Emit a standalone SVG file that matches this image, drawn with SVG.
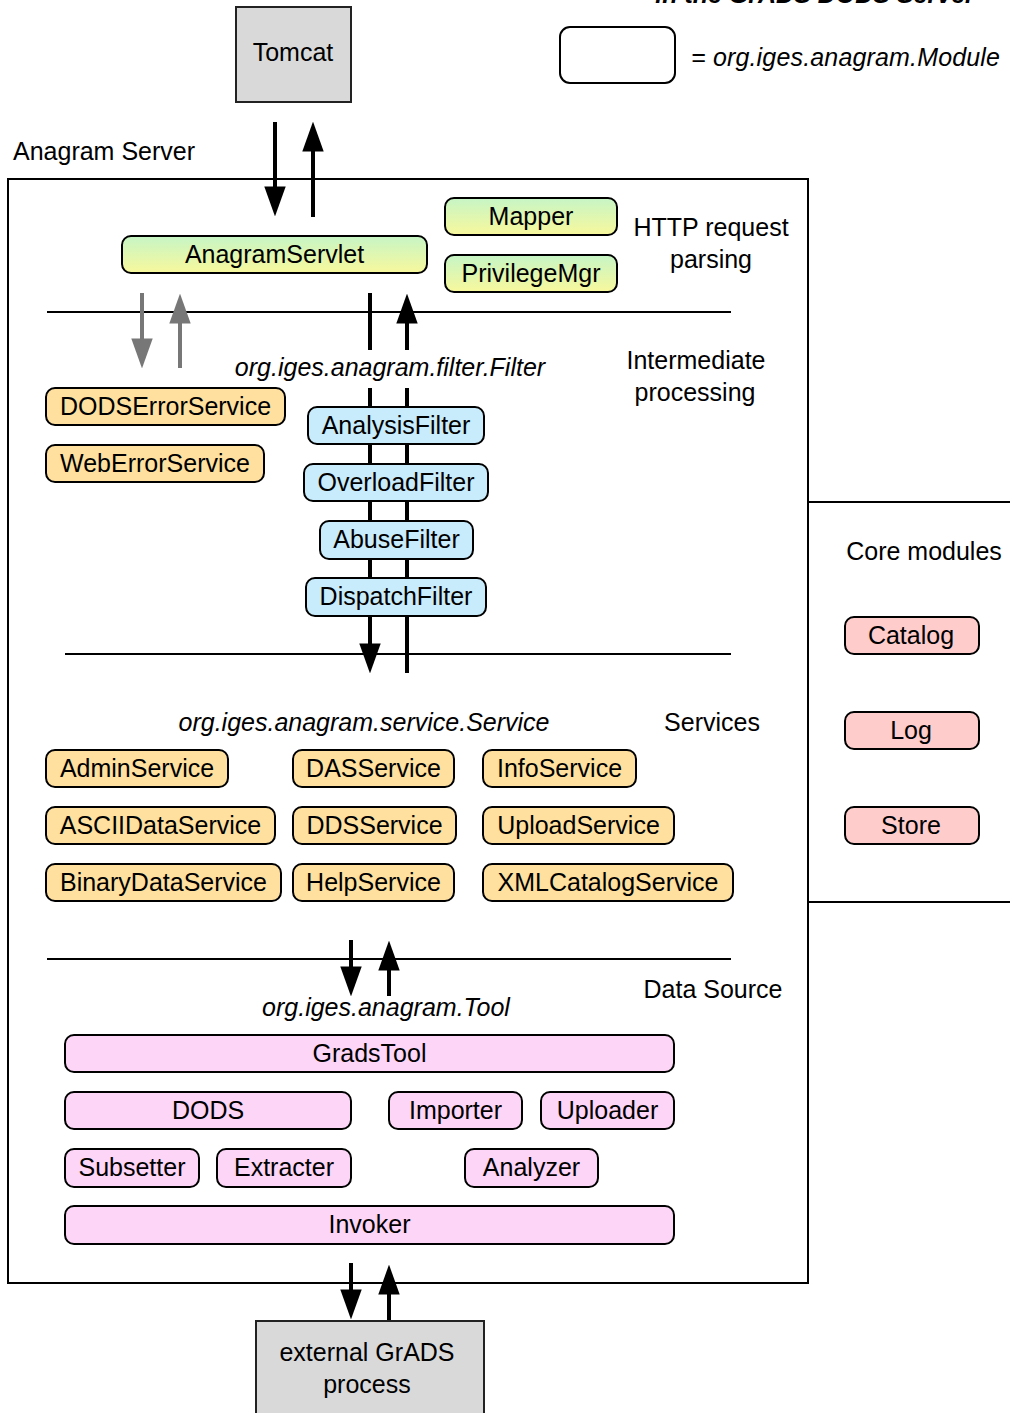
<svg xmlns="http://www.w3.org/2000/svg" width="1010" height="1413" viewBox="0 0 1010 1413">
<defs>
<linearGradient id="gy" x1="0" y1="0" x2="0" y2="1">
<stop offset="0" stop-color="#c6f5c6"/>
<stop offset="1" stop-color="#f8f89c"/>
</linearGradient>
<marker id="ah" markerUnits="userSpaceOnUse" markerWidth="30" markerHeight="22" viewBox="0 0 28 20" refX="8" refY="10" orient="auto">
<path d="M0,0 L28,10 L0,20 z" fill="#000"/>
</marker>
<marker id="ahg" markerUnits="userSpaceOnUse" markerWidth="30" markerHeight="22" viewBox="0 0 28 20" refX="8" refY="10" orient="auto">
<path d="M0,0 L28,10 L0,20 z" fill="#777"/>
</marker>
</defs>
<style>
text{font-family:"Liberation Sans",Arial,Helvetica,sans-serif;font-size:25px;fill:#000}
.c{text-anchor:middle}
.i{font-style:italic}
.m{stroke:#000;stroke-width:2}
.g{fill:url(#gy)}
.o{fill:#ffe09f}
.b{fill:#c8ecfc}
.p{fill:#fdd5f7}
.r{fill:#ffcccc}
.w{fill:#fff}
.gray{fill:#d9d9d9;stroke:#222;stroke-width:2}
.ln{stroke:#000;stroke-width:2;fill:none}
.ar{stroke:#000;stroke-width:4;fill:none}
.arg{stroke:#777;stroke-width:4;fill:none}
</style>
<rect width="1010" height="1413" fill="#fff"/>

<text x="815" y="3" class="c i" font-weight="bold">in the GrADS DODS Server</text>

<g id="legend">
<rect x="560" y="27" width="115" height="56" rx="10" class="w m"/>
<text x="691" y="66" class="i" textLength="309">= org.iges.anagram.Module</text>
</g>

<g id="tomcat">
<rect x="236" y="7" width="115" height="95" class="gray"/>
<text x="293" y="61" class="c">Tomcat</text>
</g>

<text x="13" y="160">Anagram Server</text>
<g id="server">
<rect x="8" y="179" width="800" height="1104" fill="none" class="m"/>
</g>

<g id="connectors">
<line x1="808" y1="502" x2="1010" y2="502" class="ln"/>
<line x1="808" y1="902" x2="1010" y2="902" class="ln"/>
<line x1="47" y1="312" x2="731" y2="312" class="ln"/>
<line x1="65" y1="654" x2="731" y2="654" class="ln"/>
<line x1="47" y1="959" x2="731" y2="959" class="ln"/>

<line x1="275" y1="122" x2="275" y2="195" class="ar" marker-end="url(#ah)"/>
<line x1="313" y1="217" x2="313" y2="143" class="ar" marker-end="url(#ah)"/>

<line x1="142" y1="293" x2="142" y2="347" class="arg" marker-end="url(#ahg)"/>
<line x1="180" y1="368" x2="180" y2="315" class="arg" marker-end="url(#ahg)"/>

<line x1="370" y1="293" x2="370" y2="652" class="ar" marker-end="url(#ah)"/>
<line x1="407" y1="673" x2="407" y2="315" class="ar" marker-end="url(#ah)"/>

<line x1="351" y1="940" x2="351" y2="975" class="ar" marker-end="url(#ah)"/>
<line x1="389" y1="996" x2="389" y2="962" class="ar" marker-end="url(#ah)"/>

<line x1="351" y1="1263" x2="351" y2="1298" class="ar" marker-end="url(#ah)"/>
<line x1="389" y1="1320" x2="389" y2="1286" class="ar" marker-end="url(#ah)"/>
</g>

<text x="711" y="236" class="c">HTTP request</text>
<text x="711" y="268" class="c">parsing</text>
<text x="696" y="369" class="c">Intermediate</text>
<text x="695" y="401" class="c">processing</text>
<rect x="222" y="350" width="330" height="38" fill="#fff"/>
<text x="390" y="376" class="c i">org.iges.anagram.filter.Filter</text>
<text x="364" y="731" class="c i">org.iges.anagram.service.Service</text>
<text x="712" y="731" class="c">Services</text>
<text x="386" y="1016" class="c i">org.iges.anagram.Tool</text>
<text x="713" y="998" class="c">Data Source</text>
<text x="924" y="560" class="c">Core modules</text>

<g id="AnagramServlet"><rect x="122" y="236" width="305" height="37" rx="9" class="g m"/><text x="274.5" y="263" class="c">AnagramServlet</text></g>
<g id="Mapper"><rect x="445" y="198" width="172" height="37" rx="9" class="g m"/><text x="531" y="225" class="c">Mapper</text></g>
<g id="PrivilegeMgr"><rect x="445" y="255" width="172" height="37" rx="9" class="g m"/><text x="531" y="282" class="c">PrivilegeMgr</text></g>

<g id="DODSErrorService"><rect x="46" y="388" width="239" height="37" rx="9" class="o m"/><text x="165.5" y="415" class="c">DODSErrorService</text></g>
<g id="WebErrorService"><rect x="46" y="445" width="218" height="37" rx="9" class="o m"/><text x="155" y="472" class="c">WebErrorService</text></g>

<g id="AnalysisFilter"><rect x="308" y="407" width="176" height="37" rx="9" class="b m"/><text x="396" y="434" class="c">AnalysisFilter</text></g>
<g id="OverloadFilter"><rect x="304" y="464" width="184" height="37" rx="9" class="b m"/><text x="396" y="491" class="c">OverloadFilter</text></g>
<g id="AbuseFilter"><rect x="320" y="521" width="153" height="38" rx="9" class="b m"/><text x="396.5" y="548" class="c">AbuseFilter</text></g>
<g id="DispatchFilter"><rect x="306" y="578" width="180" height="38" rx="9" class="b m"/><text x="396" y="605" class="c">DispatchFilter</text></g>

<g id="AdminService"><rect x="46" y="750" width="182" height="37" rx="9" class="o m"/><text x="137" y="777" class="c">AdminService</text></g>
<g id="DASService"><rect x="293" y="750" width="161" height="37" rx="9" class="o m"/><text x="373.5" y="777" class="c">DASService</text></g>
<g id="InfoService"><rect x="483" y="750" width="153" height="37" rx="9" class="o m"/><text x="559.5" y="777" class="c">InfoService</text></g>
<g id="ASCIIDataService"><rect x="46" y="807" width="229" height="37" rx="9" class="o m"/><text x="160.5" y="834" class="c">ASCIIDataService</text></g>
<g id="DDSService"><rect x="293" y="807" width="163" height="37" rx="9" class="o m"/><text x="374.5" y="834" class="c">DDSService</text></g>
<g id="UploadService"><rect x="483" y="807" width="191" height="37" rx="9" class="o m"/><text x="578.5" y="834" class="c">UploadService</text></g>
<g id="BinaryDataService"><rect x="46" y="864" width="235" height="37" rx="9" class="o m"/><text x="163.5" y="891" class="c">BinaryDataService</text></g>
<g id="HelpService"><rect x="293" y="864" width="161" height="37" rx="9" class="o m"/><text x="373.5" y="891" class="c">HelpService</text></g>
<g id="XMLCatalogService"><rect x="483" y="864" width="250" height="37" rx="9" class="o m"/><text x="608" y="891" class="c">XMLCatalogService</text></g>

<g id="GradsTool"><rect x="65" y="1035" width="609" height="37" rx="9" class="p m"/><text x="369.5" y="1062" class="c">GradsTool</text></g>
<g id="DODS"><rect x="65" y="1092" width="286" height="37" rx="9" class="p m"/><text x="208" y="1119" class="c">DODS</text></g>
<g id="Importer"><rect x="389" y="1092" width="133" height="37" rx="9" class="p m"/><text x="455.5" y="1119" class="c">Importer</text></g>
<g id="Uploader"><rect x="541" y="1092" width="133" height="37" rx="9" class="p m"/><text x="607.5" y="1119" class="c">Uploader</text></g>
<g id="Subsetter"><rect x="65" y="1149" width="134" height="38" rx="9" class="p m"/><text x="132" y="1176" class="c">Subsetter</text></g>
<g id="Extracter"><rect x="217" y="1149" width="134" height="38" rx="9" class="p m"/><text x="284" y="1176" class="c">Extracter</text></g>
<g id="Analyzer"><rect x="465" y="1149" width="133" height="38" rx="9" class="p m"/><text x="531.5" y="1176" class="c">Analyzer</text></g>
<g id="Invoker"><rect x="65" y="1206" width="609" height="38" rx="9" class="p m"/><text x="369.5" y="1233" class="c">Invoker</text></g>

<g id="Catalog"><rect x="845" y="617" width="134" height="37" rx="9" class="r m"/><text x="911" y="644" class="c">Catalog</text></g>
<g id="Log"><rect x="845" y="712" width="134" height="37" rx="9" class="r m"/><text x="911" y="739" class="c">Log</text></g>
<g id="Store"><rect x="845" y="807" width="134" height="37" rx="9" class="r m"/><text x="911" y="834" class="c">Store</text></g>

<g id="external"><rect x="256" y="1321" width="228" height="100" class="gray"/><text x="367" y="1361" class="c">external GrADS</text><text x="367" y="1393" class="c">process</text></g>
</svg>
